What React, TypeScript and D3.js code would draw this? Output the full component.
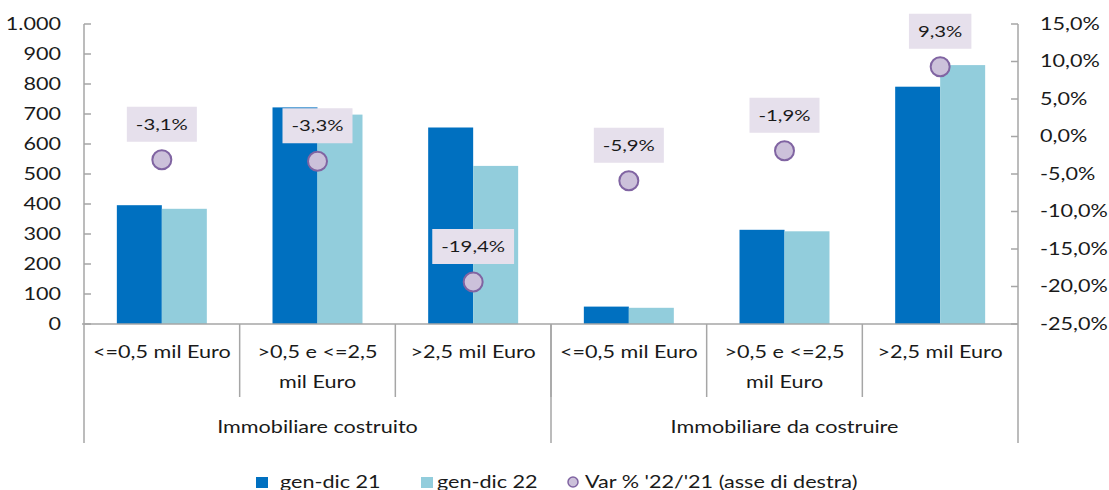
import { scaleBand, scaleLinear } from "d3";
import type { ReactNode } from "react";

const WIDTH = 1109;
const HEIGHT = 490;
const PLOT = { left: 84, right: 1018, top: 24, bottom: 324 };

const categories = [
  ["<=0,5 mil Euro"],
  [">0,5 e <=2,5", "mil Euro"],
  [">2,5 mil Euro"],
  ["<=0,5 mil Euro"],
  [">0,5 e <=2,5", "mil Euro"],
  [">2,5 mil Euro"],
];
const groups = ["Immobiliare costruito", "Immobiliare da costruire"];
const gen21 = [396, 722, 655, 58, 314, 791];
const gen22 = [384, 698, 527, 54, 309, 863];
const varPct = [-3.1, -3.3, -19.4, -5.9, -1.9, 9.3];
const leftTicks = [0, 100, 200, 300, 400, 500, 600, 700, 800, 900, 1000];
const rightTicks = [-25, -20, -15, -10, -5, 0, 5, 10, 15];

const DARK = "#0070c0";
const LIGHT = "#92cddc";
const AXIS = "#a6a6a6";
const TEXT = "#1a1a1a";
const FONT = "Lato, 'Open Sans', sans-serif";
// reference text is wider than Lato, stretch it horizontally
const SX = 1.27;

const fmtLeft = (v: number) => (v >= 1000 ? "1.000" : String(v));
const fmtPct = (v: number, d: number) => v.toFixed(d).replace(".", ",") + "%";

function textWidth(s: string, size: number) {
  const ctx = document.createElement("canvas").getContext("2d");
  if (!ctx) return s.length * size * 0.55;
  ctx.font = `${size}px Lato`;
  return ctx.measureText(s).width;
}

function T({
  x,
  y,
  anchor = "start",
  size = 17,
  children,
}: {
  x: number;
  y: number;
  anchor?: "start" | "middle" | "end";
  size?: number;
  children: ReactNode;
}) {
  return (
    <text
      transform={`translate(${x},${y}) scale(${SX},1)`}
      dy="0.35em"
      textAnchor={anchor}
      fontSize={size}
      fill={TEXT}
    >
      {children}
    </text>
  );
}

export default function App() {
  const idx = categories.map((_, i) => String(i));
  const x0 = scaleBand().domain(idx).range([PLOT.left, PLOT.right]);
  const x1 = scaleBand()
    .domain(["21", "22"])
    .range([0, x0.bandwidth()])
    .paddingOuter(0.73);
  const y = scaleLinear().domain([0, 1000]).range([PLOT.bottom, PLOT.top]);
  const yR = scaleLinear().domain([-25, 15]).range([PLOT.bottom, PLOT.top]);

  const groupEdges = [PLOT.left, x0("3") ?? 0, PLOT.right];
  const mid = (k: string) => (x0(k) ?? 0) + x0.bandwidth() / 2;

  return (
    <svg
      width={WIDTH}
      height={HEIGHT}
      style={{ position: "absolute", left: 0, top: 0 }}
      fontFamily={FONT}
    >
      <rect width={WIDTH} height={HEIGHT} fill="#fff" />

      {/* bars */}
      {idx.map((k, i) => (
        <g key={k} transform={`translate(${x0(k)},0)`}>
          <rect
            x={x1("21")}
            y={y(gen21[i])}
            width={x1.bandwidth()}
            height={y(0) - y(gen21[i])}
            fill={DARK}
          />
          <rect
            x={x1("22")}
            y={y(gen22[i])}
            width={x1.bandwidth()}
            height={y(0) - y(gen22[i])}
            fill={LIGHT}
          />
        </g>
      ))}

      {/* left axis */}
      <line x1={PLOT.left} x2={PLOT.left} y1={PLOT.top} y2={PLOT.bottom} stroke={AXIS} strokeWidth={1.5} />
      {leftTicks.map((t) => (
        <g key={t}>
          <line x1={PLOT.left} x2={PLOT.left + 7} y1={y(t)} y2={y(t)} stroke={AXIS} strokeWidth={1.5} />
          <T x={61} y={y(t)} anchor="end">
            {fmtLeft(t)}
          </T>
        </g>
      ))}

      {/* right axis */}
      <line x1={PLOT.right} x2={PLOT.right} y1={PLOT.top} y2={PLOT.bottom} stroke={AXIS} strokeWidth={1.5} />
      {rightTicks.map((t) => (
        <g key={t}>
          <line x1={PLOT.right - 7} x2={PLOT.right} y1={yR(t)} y2={yR(t)} stroke={AXIS} strokeWidth={1.5} />
          <T x={1040} y={yR(t)}>
            {fmtPct(t, 1)}
          </T>
        </g>
      ))}

      {/* category axis */}
      <line x1={PLOT.left - 2} x2={PLOT.right} y1={PLOT.bottom} y2={PLOT.bottom} stroke={AXIS} strokeWidth={1.5} />
      {idx.slice(1).map((k) => (
        <line key={k} x1={x0(k)} x2={x0(k)} y1={PLOT.bottom} y2={397} stroke={AXIS} strokeWidth={1.5} />
      ))}
      {groupEdges.map((gx, i) => (
        <line key={i} x1={gx} x2={gx} y1={PLOT.bottom} y2={443} stroke={AXIS} strokeWidth={1.5} />
      ))}
      {categories.map((lines, i) =>
        lines.map((l, j) => (
          <T key={`${i}-${j}`} x={mid(String(i))} y={352 + j * 30} anchor="middle">
            {l}
          </T>
        ))
      )}
      {groups.map((g, i) => (
        <T key={g} x={(groupEdges[i] + groupEdges[i + 1]) / 2} y={427} anchor="middle">
          {g}
        </T>
      ))}

      {/* variation points and labels */}
      {idx.map((k, i) => {
        const cx = mid(k);
        const cy = yR(varPct[i]);
        const label = fmtPct(varPct[i], 1);
        const w = textWidth(label, 16) * SX + 18;
        return (
          <g key={k}>
            <circle cx={cx} cy={cy} r={9.5} fill="#ccc1da" stroke="#8064a2" strokeWidth={2} />
            <rect x={cx - w / 2} y={cy - 53} width={w} height={35} fill="#e6e0ec" />
            <T x={cx} y={cy - 35.5} anchor="middle" size={16}>
              {label}
            </T>
          </g>
        );
      })}

      {/* legend */}
      <rect x={256} y={477} width={12} height={11} fill={DARK} />
      <T x={280} y={482}>gen-dic 21</T>
      <rect x={421} y={477} width={12} height={11} fill={LIGHT} />
      <T x={437} y={482}>gen-dic 22</T>
      <circle cx={573} cy={482} r={5} fill="#ccc1da" stroke="#8064a2" strokeWidth={1.5} />
      <T x={585} y={482}>Var % '22/'21 (asse di destra)</T>
    </svg>
  );
}
